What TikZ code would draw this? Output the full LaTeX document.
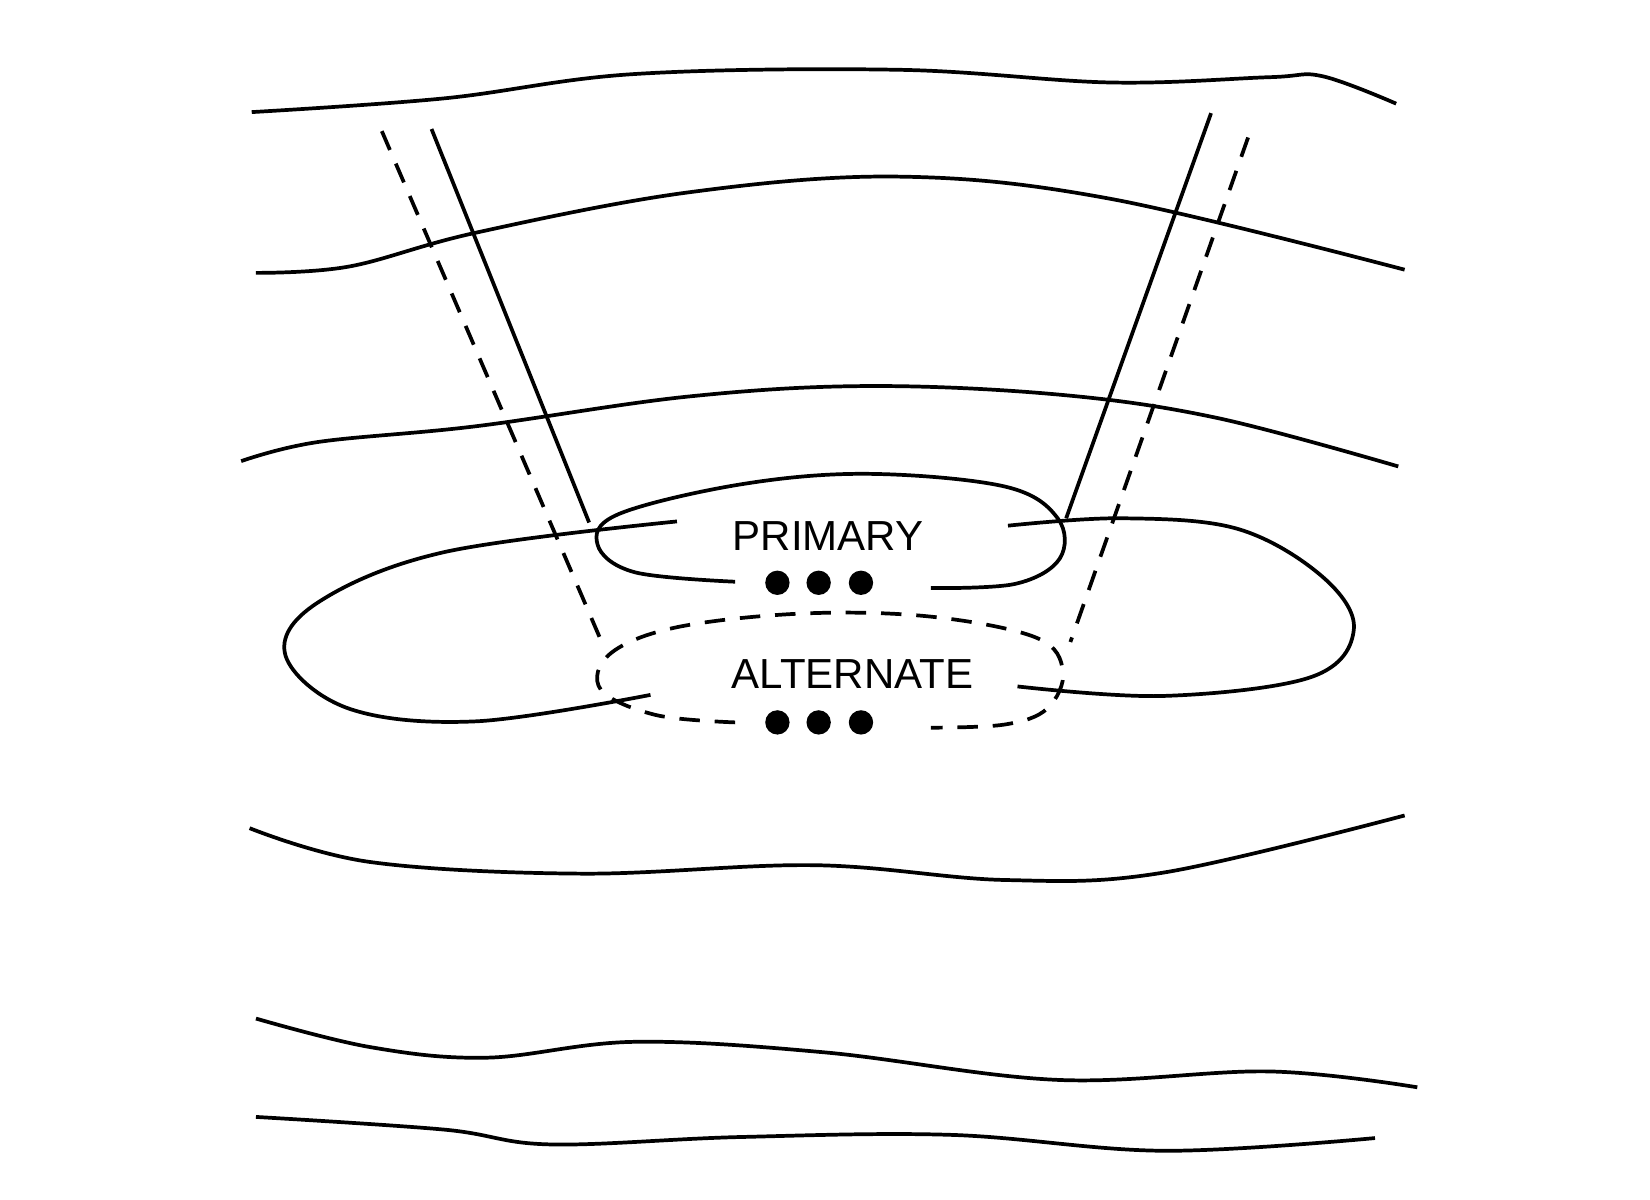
\documentclass[tikz,border=0pt]{standalone}
\usepackage{fontspec}
\setmainfont{Liberation Sans}
\begin{document}
\begin{tikzpicture}[x=0.01cm,y=-0.01cm,
  ln/.style={line width=1pt},
  dsh/.style={line width=1pt,dash pattern=on 5.5pt off 4pt},
  lbl/.style={font=\fontsize{11.3pt}{13pt}\selectfont,inner sep=0pt},
  dot/.style={circle,fill=black,minimum size=0.23cm,inner sep=0pt}]
\useasboundingbox (0,0) rectangle (1560,1134);
\draw[ln] plot[smooth,tension=0.6] coordinates{(238,106) (420,93) (600,70) (850,66) (1050,78) (1200,73) (1250,72) (1320,98)};
\draw[ln] plot[smooth,tension=0.6] coordinates{(242,258) (330,252) (450,220) (650,182) (850,167) (1050,188) (1328,255)};
\draw[ln] plot[smooth,tension=0.6] coordinates{(228,436) (300,418) (450,403) (650,375) (820,365) (1000,373) (1150,395) (1322,441)};
\draw[ln] plot[smooth,tension=0.6] coordinates{(640,493) (420,522) (300,570) (270,620) (330,670) (450,682) (615,657)};
\draw[ln] plot[smooth,tension=0.6] coordinates{(953,497) (1060,490) (1170,500) (1250,545) (1280,595) (1240,640) (1100,658) (962,649)};
\draw[ln] plot[smooth,tension=0.6] coordinates{(695,550) (600,541) (565,515) (585,486) (700,458) (820,448) (950,460) (1000,490) (1002,528) (960,552) (880,556)};
\draw[dsh] plot[smooth,tension=0.6] coordinates{(695,683) (620,676) (568,652) (577,618) (640,593) (760,580) (880,583) (980,603) (1005,635) (990,670) (950,685) (880,688)};
\draw[ln] plot[smooth,tension=0.6] coordinates{(236,783) (350,815) (550,826) (770,818) (950,832) (1100,825) (1328,771)};
\draw[ln] plot[smooth,tension=0.6] coordinates{(242,963) (350,990) (460,1000) (600,985) (780,995) (1000,1021) (1200,1013) (1340,1028)};
\draw[ln] plot[smooth,tension=0.6] coordinates{(242,1056) (420,1068) (520,1082) (700,1075) (900,1073) (1100,1088) (1300,1076)};
\coordinate (ls1) at (408,122); \coordinate (ls2) at (557,494);
\coordinate (ld1) at (361,124); \coordinate (ld2) at (568,605);
\coordinate (rs1) at (1145,107); \coordinate (rs2) at (1008,490);
\coordinate (rd1) at (1180,130); \coordinate (rd2) at (1012,607);
\draw[ln] (ls1) -- (ls2);
\draw[dsh] (ld1) -- (ld2);
\draw[ln] (rs1) -- (rs2);
\draw[dsh] (rd1) -- (rd2);
\node[lbl] (prim) at (783,507) {PRIMARY};
\node[lbl] (alt) at (806,637) {ALTERNATE};
\foreach \i/\x in {1/735,2/774,3/814}{
  \node[dot] (p\i) at (\x,551) {};
  \node[dot] (a\i) at (\x,683) {};
}
\end{tikzpicture}
\end{document}
